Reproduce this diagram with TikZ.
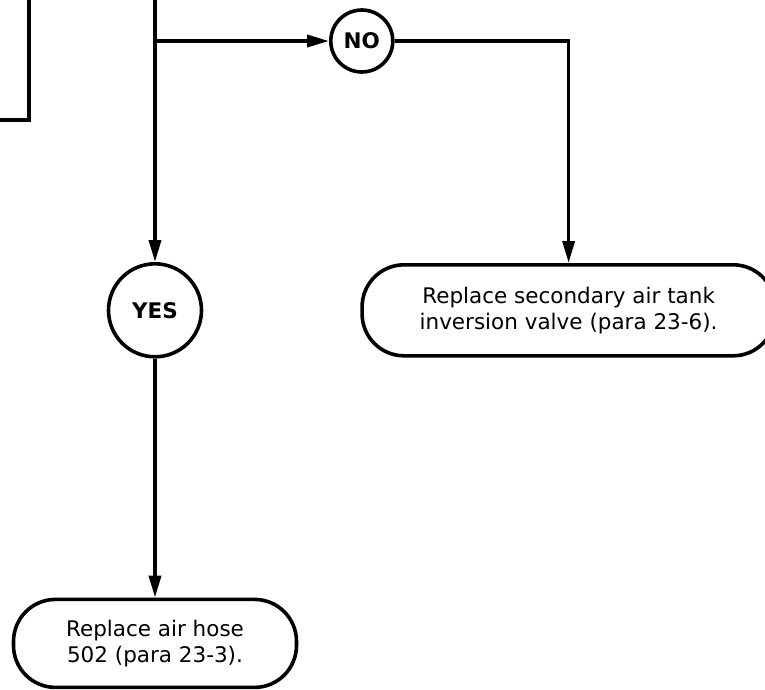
\documentclass[tikz,border=0pt]{standalone}
\usepackage{fontspec}
\setmainfont{DejaVu Sans}
\usepackage{tikz}
\usetikzlibrary{arrows.meta, positioning}

\begin{document}
\begin{tikzpicture}[
    x=1pt, y=-1pt,
    every node/.style={line width=3.6pt},
    answer/.style={
      draw,
      circle,
      inner sep=0pt,
      font=\fontsize{21.5}{26}\selectfont\bfseries
    },
    action/.style={
      draw,
      rounded corners=42pt,
      align=center,
      font=\fontsize{21.5}{26}\selectfont
    },
    arrow/.style={-{Triangle[length=22pt, width=12pt]}, line width=3.6pt}
  ]
    \useasboundingbox (0,0) rectangle (765,689);

    \node[draw, minimum width=150pt, minimum height=160pt, anchor=south east] (prev) at (31,122) {};
    \coordinate (entry) at (155,-5);
    \coordinate (split) at (155,41);

    \node[answer, minimum size=62pt, right=174pt of split] (no) {NO};
    \node[answer, minimum size=93pt, below=221pt of split] (yes) {YES};
    \node[action, minimum width=413pt, minimum height=91pt, right=157pt of yes] (tank) {Replace secondary air tank\\inversion valve (para 23-6).};
    \node[action, minimum width=283pt, minimum height=88pt, below=239pt of yes] (hose) {Replace air hose\\502 (para 23-3).};

    \draw[arrow] (entry) -- (yes);
    \draw[arrow] (split) -- (no);
    \draw[arrow] (no.east) -| (tank.north);
    \draw[arrow] (yes) -- (hose);
  \end{tikzpicture}
\end{document}
